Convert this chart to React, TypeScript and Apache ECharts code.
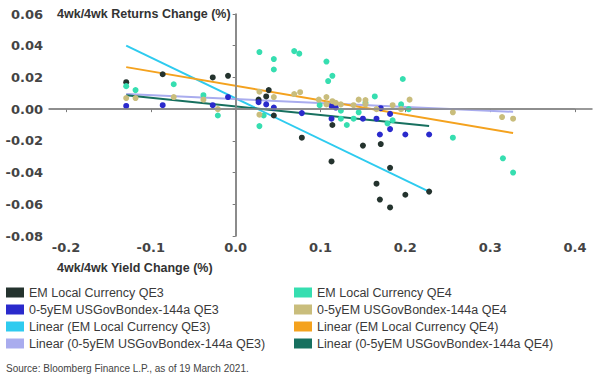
import React, { useEffect, useRef } from "react";
import * as echarts from "echarts";

// ---- Data ----
const xTicks = [-0.2, -0.1, 0.0, 0.1, 0.2, 0.3, 0.4];

const emQE3: number[][] = [
  [-0.129, 0.017], [-0.086, 0.022], [-0.027, 0.020], [-0.009, 0.021], [0.027, 0.006],
  [0.036, 0.008], [0.039, 0.012], [0.045, -0.004], [0.078, -0.018], [0.114, -0.010],
  [0.113, -0.033], [0.150, -0.023], [0.171, -0.022], [0.182, -0.037], [0.166, -0.047],
  [0.170, -0.057], [0.182, -0.062], [0.200, -0.054], [0.228, -0.052],
];

const usQE3: number[][] = [
  [-0.129, 0.002], [-0.086, 0.0025], [-0.027, 0.0025], [-0.009, 0.0076], [0.027, 0.0044],
  [0.036, 0.003], [0.045, 0.001], [0.078, -0.0025], [0.113, 0.002], [0.118, 0.001],
  [0.113, -0.006], [0.150, -0.006], [0.166, -0.006], [0.171, 0.0006], [0.182, -0.003],
  [0.170, -0.016], [0.182, -0.0126], [0.200, -0.016], [0.228, -0.016],
];

const emQE4: number[][] = [
  [-0.129, 0.0145], [-0.118, 0.012], [-0.073, 0.0157], [-0.038, 0.0088], [-0.021, -0.004],
  [0.028, 0.036], [0.045, 0.0316], [0.045, 0.025], [0.069, 0.0366], [0.075, 0.035],
  [0.028, -0.0107], [0.033, -0.004], [0.107, 0.030], [0.114, 0.021], [0.109, 0.0177],
  [0.099, 0.0025], [0.197, 0.019], [0.164, 0.008], [0.153, 0.004], [0.195, 0.003],
  [0.204, 0.000], [0.145, -0.002], [0.124, -0.001], [0.124, -0.006], [0.139, -0.006],
  [0.131, -0.010], [0.179, -0.009], [0.185, -0.007], [0.256, -0.018], [0.315, -0.031],
  [0.327, -0.040],
];

const usQE4: number[][] = [
  [-0.129, 0.007], [-0.118, 0.007], [-0.073, 0.0076], [-0.038, 0.006], [-0.021, 0.000],
  [0.028, 0.011], [0.028, -0.0035], [0.045, 0.0076], [0.069, 0.0095], [0.076, 0.0107],
  [0.098, 0.006], [0.107, 0.0076], [0.107, 0.003], [0.114, 0.005], [0.118, 0.004],
  [0.124, 0.003], [0.139, 0.0025], [0.145, 0.006], [0.153, 0.0057], [0.153, 0.003],
  [0.166, 0.0], [0.185, 0.0025], [0.195, 0.0], [0.205, 0.006], [0.256, -0.002],
  [0.314, -0.005], [0.327, -0.006],
];

const linEmQE3: number[][] = [[-0.129, 0.040], [0.228, -0.052]];
const linUsQE3: number[][] = [[-0.129, 0.0095], [0.327, -0.0017]];
const linEmQE4: number[][] = [[-0.129, 0.0265], [0.327, -0.0151]];
const linUsQE4: number[][] = [[-0.129, 0.0088], [0.228, -0.0107]];

const names = {
  emQE3: "EM Local Currency QE3",
  usQE3: "0-5yEM USGovBondex-144a QE3",
  linEmQE3: "Linear (EM Local Currency QE3)",
  linUsQE3: "Linear (0-5yEM USGovBondex-144a QE3)",
  emQE4: "EM Local Currency QE4",
  usQE4: "0-5yEM USGovBondex-144a QE4",
  linEmQE4: "Linear (EM Local Currency QE4)",
  linUsQE4: "Linear (0-5yEM USGovBondex-144a QE4)",
};

const colors = {
  emQE3: "#24332e",
  usQE3: "#2a2acc",
  linEmQE3: "#2ecbef",
  linUsQE3: "#a9acee",
  emQE4: "#36deb0",
  usQE4: "#c9bd7c",
  linEmQE4: "#f4a21e",
  linUsQE4: "#17705f",
};

export default function App() {
  const ref = useRef<HTMLDivElement>(null);
  useEffect(() => {
    if (!ref.current) return;
    const chart = echarts.init(ref.current, null, { renderer: "svg" });
    const fmt = (d: number) => (v: number) => (Math.abs(v) < 1e-9 ? (0).toFixed(d) : v.toFixed(d));
    const lineSeries = (key: keyof typeof names, data: number[][]) => ({
      name: names[key],
      type: "line",
      data,
      symbol: "none",
      z: 3,
      lineStyle: { color: colors[key], width: 2 },
      itemStyle: { color: colors[key] },
    });
    const scatterSeries = (key: keyof typeof names, data: number[][]) => ({
      name: names[key],
      type: "scatter",
      data,
      symbolSize: 6,
      z: 4,
      itemStyle: { color: colors[key], opacity: 1 },
    });
    const legendText = { fontFamily: "Liberation Sans", fontSize: 12.5, color: "#3a3a3a", lineHeight: 13 };
    const legendBase = {
      orient: "vertical",
      top: 286,
      icon: "rect",
      itemWidth: 18,
      itemHeight: 10,
      itemGap: 4,
      padding: 0,
      textStyle: legendText,
    };
    chart.setOption({
      animation: false,
      grid: { left: 49, right: 8, top: 14, bottom: 141, containLabel: false },
      xAxis: {
        type: "value",
        min: -0.22,
        max: 0.42,
        splitLine: { show: false },
        axisLine: { show: true, lineStyle: { color: "#7a7a7a", width: 1.5 } },
        axisTick: { show: true, length: 3, customValues: xTicks, lineStyle: { color: "#7a7a7a" } },
        axisLabel: {
          customValues: xTicks,
          formatter: fmt(1),
          fontFamily: "DejaVu Sans",
          fontWeight: "bold",
          fontSize: 13,
          color: "#444",
          margin: 5,
        },
      },
      yAxis: {
        type: "value",
        min: -0.08,
        max: 0.06,
        interval: 0.02,
        splitLine: { show: false },
        axisLine: { show: true, lineStyle: { color: "#6a6a6a", width: 1.5 } },
        axisTick: { show: true, length: 3, lineStyle: { color: "#7a7a7a" } },
        axisLabel: {
          formatter: fmt(2),
          fontFamily: "DejaVu Sans",
          fontWeight: "bold",
          fontSize: 13,
          color: "#444",
          margin: 6,
        },
      },
      legend: [
        {
          ...legendBase,
          left: 6,
          data: [names.emQE3, names.usQE3, names.linEmQE3, names.linUsQE3],
        },
        {
          ...legendBase,
          left: 294,
          data: [names.emQE4, names.usQE4, names.linEmQE4, names.linUsQE4],
        },
      ],
      graphic: [
        {
          type: "text",
          left: 57,
          top: 7,
          style: {
            text: "4wk/4wk Returns Change (%)",
            font: "bold 12.5px 'Liberation Sans'",
            fill: "#333",
          },
        },
        {
          type: "text",
          left: 57,
          top: 261,
          style: {
            text: "4wk/4wk Yield Change (%)",
            font: "bold 12.5px 'Liberation Sans'",
            fill: "#333",
          },
        },
        {
          type: "text",
          left: 6,
          top: 363,
          style: {
            text: "Source: Bloomberg Finance L.P., as of 19 March 2021.",
            font: "10px 'Liberation Sans'",
            fill: "#444",
          },
        },
      ],
      series: [
        {
          type: "line",
          data: [],
          z: 1,
          silent: true,
          markLine: {
            silent: true,
            symbol: "none",
            label: { show: false },
            lineStyle: { color: "#8a8a8a", width: 1.5, type: "solid" },
            data: [
              [{ coord: [-0.22, 0] }, { coord: [0.4, 0] }],
              [{ coord: [0, -0.08] }, { coord: [0, 0.06] }],
            ],
          },
        },
        lineSeries("linEmQE3", linEmQE3),
        lineSeries("linUsQE3", linUsQE3),
        lineSeries("linEmQE4", linEmQE4),
        lineSeries("linUsQE4", linUsQE4),
        scatterSeries("emQE3", emQE3),
        scatterSeries("usQE3", usQE3),
        scatterSeries("emQE4", emQE4),
        scatterSeries("usQE4", usQE4),
      ],
    });
    return () => chart.dispose();
  }, []);
  return (
    <div
      ref={ref}
      style={{ position: "fixed", left: 0, top: 0, width: 600, height: 377, background: "#fff" }}
    />
  );
}
